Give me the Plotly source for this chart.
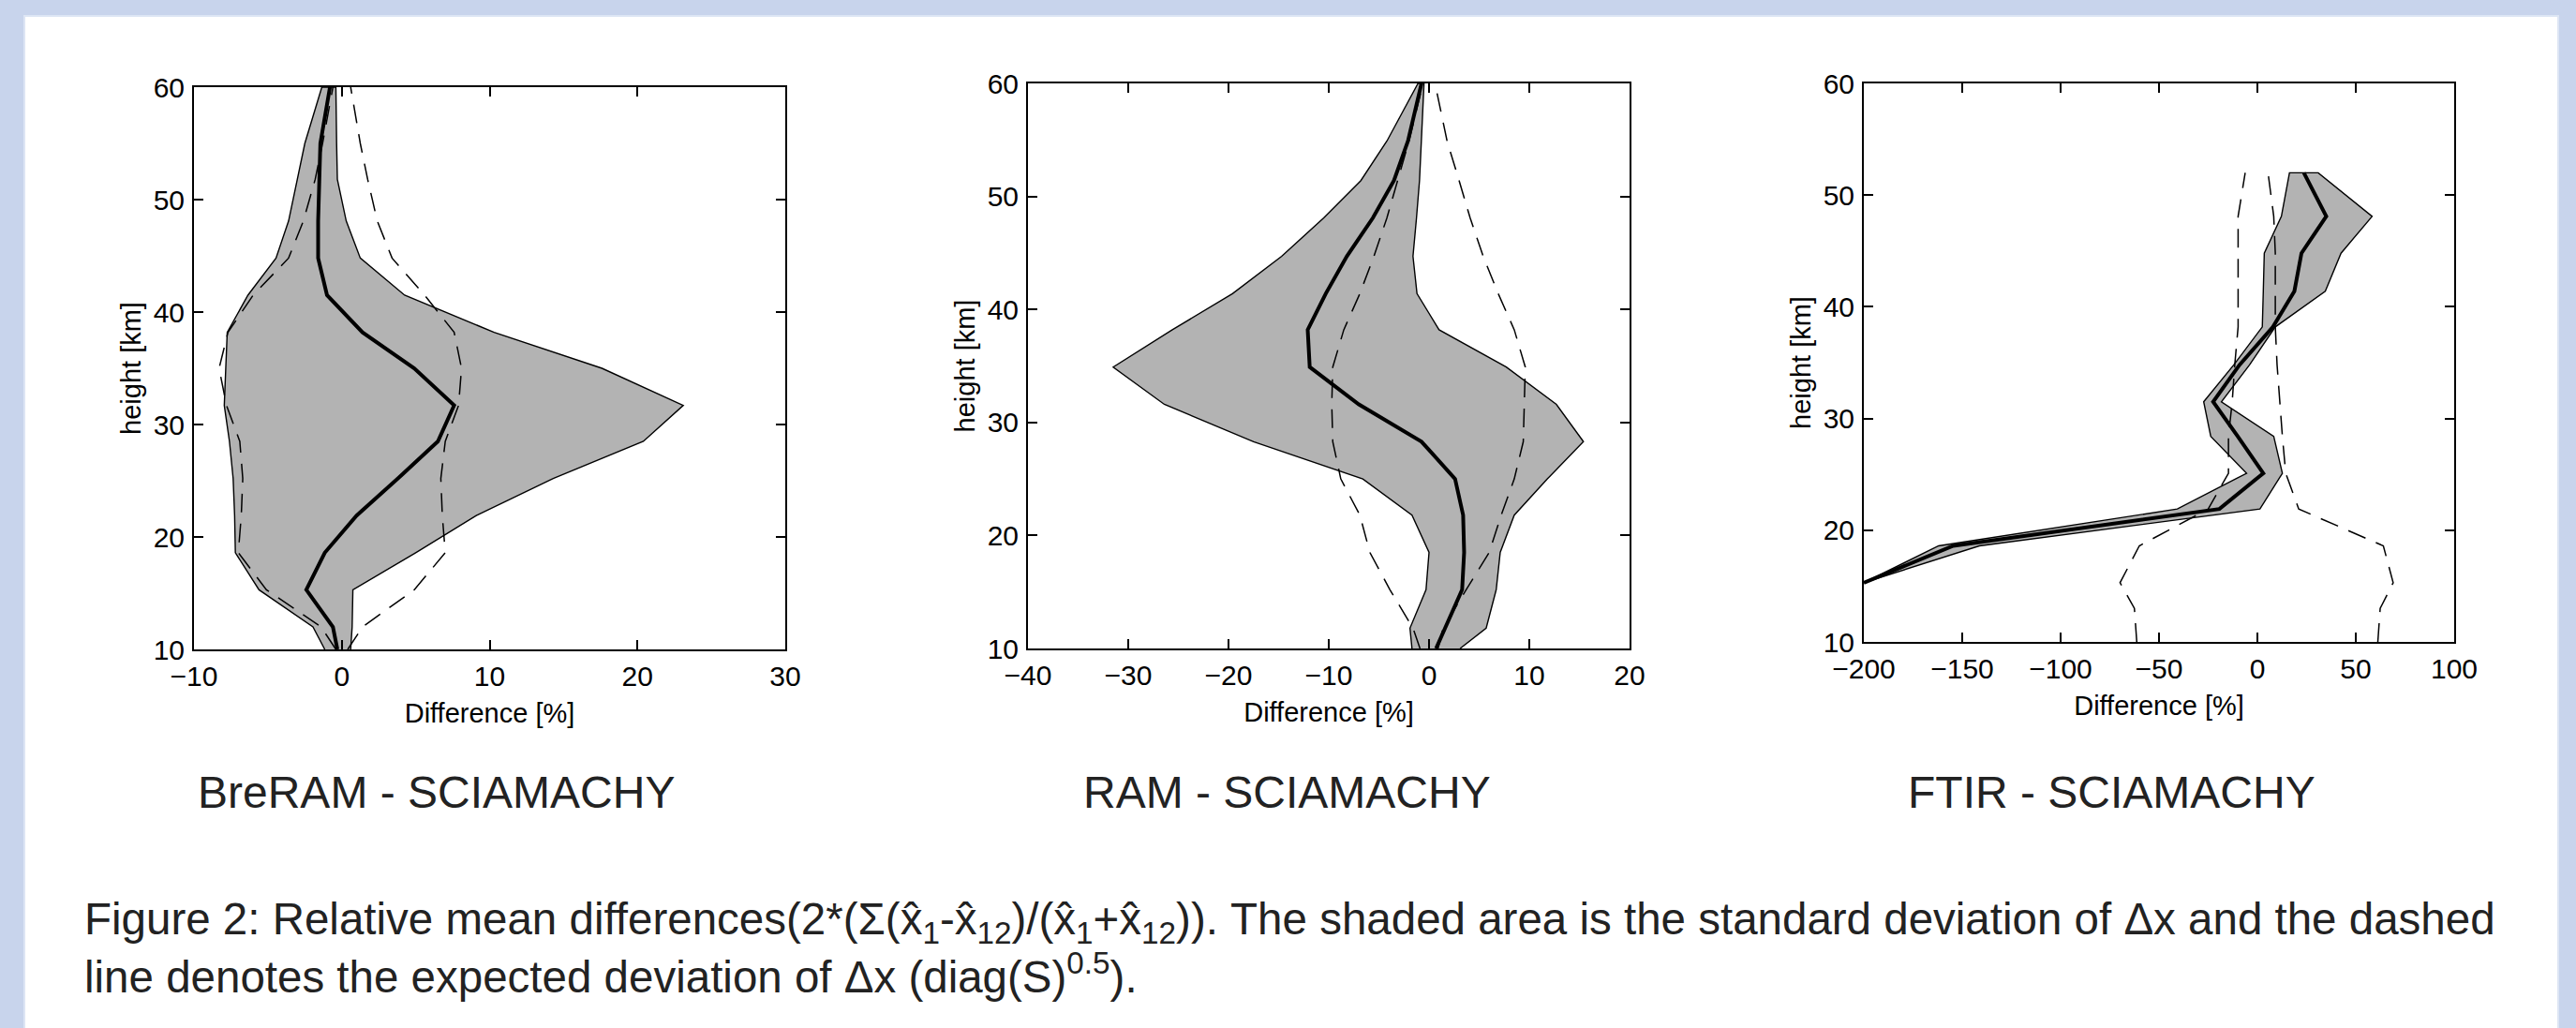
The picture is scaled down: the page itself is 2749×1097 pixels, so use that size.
import plotly.graph_objects as go

W, H = 2749, 1097

# ---------------- data ----------------
# Panel 1: BreRAM - SCIAMACHY
h1 = [10, 12, 15.3, 18.6, 21.9, 25.2, 28.5, 31.7, 35.0, 38.2, 41.5, 44.8, 48.1, 51.8, 55.0, 60]
mean1 = [-0.3, -0.6, -2.4, -1.15, 1.0, 3.8, 6.5, 7.6, 4.9, 1.4, -1.0, -1.6, -1.6, -1.55, -1.45, -0.8]
std_lo1 = [-1.15, -1.95, -5.6, -7.2, -7.25, -7.35, -7.6, -7.95, -7.85, -7.75, -6.35, -4.45, -3.6, -3.0, -2.5, -1.35]
std_hi1 = [0.6, 0.7, 0.75, 5.0, 9.1, 14.3, 20.4, 23.1, 17.6, 10.3, 4.25, 1.25, 0.3, -0.3, -0.35, -0.4]
exp_lo1 = [-0.4, -1.4, -5.1, -7.0, -6.8, -6.7, -6.9, -7.8, -8.3, -7.7, -6.0, -3.6, -2.6, -1.8, -1.3, -0.6]
exp_hi1 = [0.4, 1.4, 4.9, 7.0, 6.8, 6.7, 7.0, 7.9, 8.1, 7.6, 5.6, 3.4, 2.4, 1.75, 1.25, 0.6]

# Panel 2: RAM - SCIAMACHY
h2 = [10, 11.8, 15.2, 18.5, 21.8, 25.0, 28.3, 31.6, 34.9, 38.2, 41.4, 44.7, 48.1, 51.4, 54.9, 60]
mean2 = [0.7, 1.6, 3.3, 3.5, 3.4, 2.6, -0.75, -7.0, -11.9, -12.1, -10.3, -8.2, -5.6, -3.5, -2.1, -0.75]
std_lo2 = [-1.7, -1.9, -0.3, 0.0, -1.7, -6.6, -17.5, -26.4, -31.5, -25.6, -19.6, -14.7, -10.5, -6.8, -4.2, -1.1]
std_hi2 = [3.1, 5.7, 6.7, 7.1, 8.5, 11.8, 15.4, 12.7, 7.7, 1.0, -1.2, -1.6, -1.25, -0.95, -0.8, -0.5]
exp_lo2 = [-0.9, -1.6, -3.9, -5.9, -6.9, -8.8, -9.6, -9.7, -9.6, -8.5, -6.9, -5.5, -4.2, -3.1, -2.0, -0.6]
exp_hi2 = [0.9, 1.4, 3.7, 6.0, 7.2, 8.5, 9.4, 9.5, 9.6, 8.5, 6.9, 5.4, 4.1, 3.0, 1.8, 0.6]

# Panel 3: FTIR - SCIAMACHY
h3_band = [15.3, 18.6, 21.9, 25.1, 28.4, 31.5, 34.8, 38.2, 41.4, 44.8, 48.1, 52.0]
mean3 = [-200, -154.6, -19.3, 3.0, -10.0, -22.5, -9.1, 7.9, 18.8, 22.4, 35.0, 23.6]
std_lo3 = [-200, -162, -40.7, -5.5, -23.7, -27.3, -12.0, 2.5, 3.0, 3.5, 12.2, 16.3]
std_hi3 = [-200, -141.3, 1.3, 12.7, 8.3, -18.3, -4.0, 9.1, 34.5, 42.5, 58.3, 30.9]
h3_exp = [10, 13, 15.3, 18.6, 21.9, 25.1, 28.4, 31.5, 34.8, 38.2, 41.4, 44.8, 48.1, 52.0]
exp_lo3 = [-61.3, -62.5, -69.8, -60.0, -25.0, -14.7, -14.7, -12.8, -11.5, -9.8, -9.8, -9.8, -9.8, -6.2]
exp_hi3 = [61.2, 62.4, 69.0, 64.0, 21.0, 14.4, 12.7, 11.5, 10.0, 9.1, 9.1, 9.1, 8.3, 5.4]

titles = ["BreRAM - SCIAMACHY", "RAM - SCIAMACHY", "FTIR - SCIAMACHY"]
x_ranges = [[-10, 30], [-40, 20], [-200, 100]]
x_dticks = [10, 10, 50]
y_range = [10, 60]
y_dtick = 10
x_title = "Difference [%]"
y_title = "height [km]"

caption = ("Figure 2: Relative mean differences(2*(\u03a3(x\u0302<sub>1</sub>-x\u0302<sub>12</sub>)/"
           "(x\u0302<sub>1</sub>+x\u0302<sub>12</sub>)). The shaded area is the standard deviation "
           "of \u0394x and the dashed<br>"
           "line denotes the expected deviation of \u0394x (diag(S)<sup>0.5</sup>).")

# ---------------- layout geometry (pixels) ----------------
boxes = [(207, 838, 93, 693), (1097, 1739, 89, 692), (1989, 2619, 89, 685)]
sub_cx = [465, 1373, 2253]
sub_cy = 845

def px(x):
    return x / W

def py(y):
    return 1 - y / H

FONT = "Liberation Sans, Arial, sans-serif"
GRAY = "#b3b3b3"
BLUE = "#c8d4ec"

fig = go.Figure()

panels = [
    (h1, mean1, std_lo1, std_hi1, h1, exp_lo1, exp_hi1),
    (h2, mean2, std_lo2, std_hi2, h2, exp_lo2, exp_hi2),
    (h3_band, mean3, std_lo3, std_hi3, h3_exp, exp_lo3, exp_hi3),
]

for i, (hb, mn, lo, hi, he, elo, ehi) in enumerate(panels):
    xa = "x" if i == 0 else f"x{i+1}"
    ya = "y" if i == 0 else f"y{i+1}"
    # shaded std band
    fig.add_trace(go.Scatter(
        x=list(lo) + list(hi)[::-1], y=list(hb) + list(hb)[::-1],
        fill="toself", fillcolor=GRAY, mode="lines",
        line=dict(color="black", width=1.4), xaxis=xa, yaxis=ya,
        showlegend=False, hoverinfo="skip"))
    # expected deviation (dashed)
    for ex in (elo, ehi):
        fig.add_trace(go.Scatter(
            x=ex, y=he, mode="lines",
            line=dict(color="black", width=1.5, dash="20px,12px"),
            xaxis=xa, yaxis=ya, showlegend=False))
    # mean difference
    fig.add_trace(go.Scatter(
        x=mn, y=hb, mode="lines", line=dict(color="black", width=4),
        xaxis=xa, yaxis=ya, showlegend=False))

axis_common = dict(
    showline=True, linecolor="black", linewidth=2, mirror="ticks",
    ticks="inside", ticklen=10, tickwidth=1.6, tickcolor="black",
    showgrid=False, zeroline=False, automargin=False,
    tickfont=dict(family=FONT, size=30, color="black"),
)

layout = dict(
    template="none",
    width=W, height=H, autosize=False,
    margin=dict(l=0, r=0, t=0, b=0, pad=0, autoexpand=False),
    paper_bgcolor=BLUE, plot_bgcolor="white",
    shapes=[dict(type="rect", xref="paper", yref="paper",
                 x0=px(26), x1=px(2730), y0=-0.01, y1=py(17),
                 fillcolor="white", line=dict(color="#dde5f4", width=2), layer="below")],
    annotations=[],
)

for i, (l, r, t, b) in enumerate(boxes):
    xk = "xaxis" if i == 0 else f"xaxis{i+1}"
    yk = "yaxis" if i == 0 else f"yaxis{i+1}"
    ya = "y" if i == 0 else f"y{i+1}"
    xa = "x" if i == 0 else f"x{i+1}"
    layout[xk] = dict(axis_common, domain=[px(l), px(r)], range=x_ranges[i],
                      dtick=x_dticks[i], tick0=0, anchor=ya, ticklabelstandoff=1,
                      title=dict(text=x_title, font=dict(family=FONT, size=29, color="black"),
                                 standoff=14))
    layout[yk] = dict(axis_common, domain=[py(b), py(t)], range=y_range,
                      dtick=y_dtick, tick0=0, anchor=xa, ticklabelstandoff=2,
                      title=dict(text=y_title, font=dict(family=FONT, size=29, color="black"),
                                 standoff=4))
    layout["annotations"].append(dict(
        text=titles[i], xref="paper", yref="paper", x=px(sub_cx[i]), y=py(sub_cy),
        xanchor="center", yanchor="middle", showarrow=False,
        font=dict(family=FONT, size=48, color="#222222")))

layout["annotations"].append(dict(
    text=caption, xref="paper", yref="paper", x=px(88), y=py(952),
    xanchor="left", yanchor="top", showarrow=False, align="left",
    font=dict(family=FONT, size=47.5, color="#222222")))

fig.update_layout(**layout)
fig.write_html("out.html",
               config={"displayModeBar": False},
               post_script="document.body.style.margin='0';"
                           "document.body.style.background='" + BLUE + "';"
                           "document.body.style.overflow='hidden';")
